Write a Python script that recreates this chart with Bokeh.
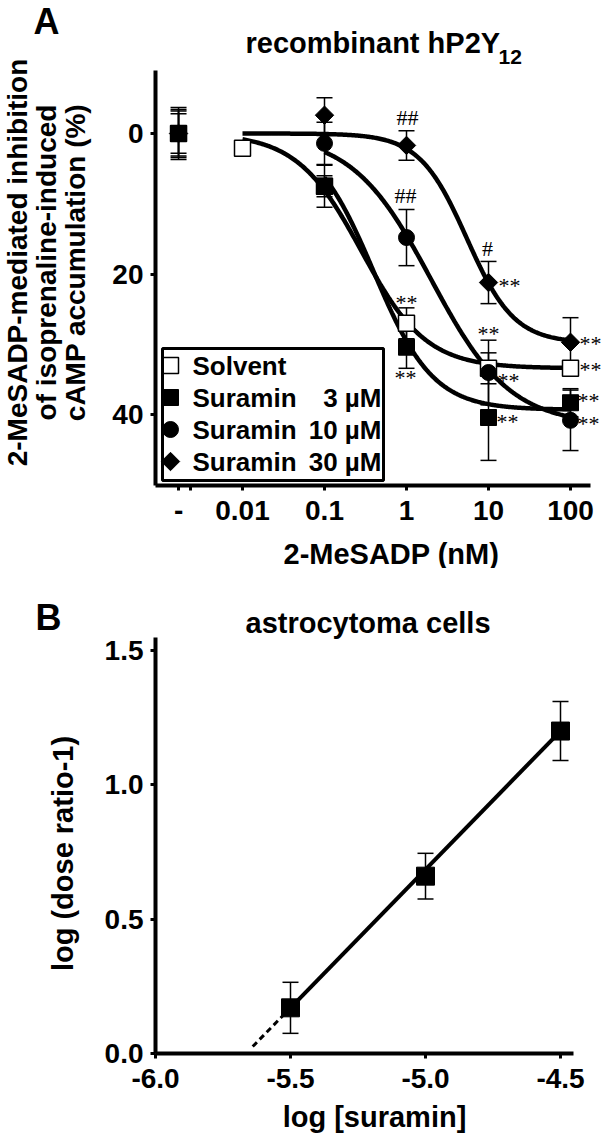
import numpy as np
from math import pi
from bokeh.plotting import figure
from bokeh.models import Range1d, FixedTicker, Label, Whisker, TeeHead, ColumnDataSource
from bokeh.layouts import column
from bokeh.embed import file_html
from bokeh.resources import INLINE

# ===================== DATA =====================
# Panel A: 2-MeSADP-mediated inhibition of cAMP accumulation (%), recombinant hP2Y12
conc_tick_labels = ["-", "0.01", "0.1", "1", "10", "100"]
conc_tick_log = [-2.78, -2.0, -1.0, 0.0, 1.0, 2.0]      # log10 [2-MeSADP] (nM); "-" = no agonist
inh_tick_values = [0, 20, 40]

solvent_logc = [-2.78, -2.0, -1.0, 0.0, 1.0, 2.0]
solvent_inh = [0.0, 2.1, 7.5, 27.0, 33.4, 33.4]
solvent_sem = [3.2, 0.0, 1.5, 2.2, 2.2, 1.0]

sur3_logc = [-2.78, -1.0, 0.0, 1.0, 2.0]
sur3_inh = [0.0, 7.5, 30.4, 40.4, 38.3]
sur3_sem = [2.8, 3.0, 3.0, 6.1, 2.0]

sur10_logc = [-2.78, -1.0, 0.0, 1.0, 2.0]
sur10_inh = [0.0, 1.4, 14.8, 34.0, 40.8]
sur10_sem = [3.7, 3.0, 4.0, 4.6, 4.3]

sur30_logc = [-2.78, -1.0, 0.0, 1.0, 2.0]
sur30_inh = [0.0, -2.6, 1.7, 21.2, 29.7]
sur30_sem = [3.4, 2.5, 2.1, 3.0, 3.5]

# fitted sigmoid curves: solvent, 3, 10, 30 uM suramin
fit_bottom = [33.4, 39.3, 41.5, 29.8]
fit_logec50 = [-0.55, -0.40, 0.30, 0.735]
fit_hill = [1.1, 1.2, 0.9, 1.5]
fit_from = [-2.0, -1.0, -1.0, -2.0]
fit_to = [2.0, 2.0, 2.0, 2.0]

legend_names = ["Solvent", "Suramin", "Suramin", "Suramin"]
legend_conc = ["", "3 \u00b5M", "10 \u00b5M", "30 \u00b5M"]

# significance marks (anchored at data points)
sig_text = ["##", "##", "#", "**", "**", "**", "**", "**", "**", "**", "**", "**", "**"]
sig_logc = [0.0, 0.0, 1.0, 0.0, 0.0, 1.0, 1.0, 1.0, 1.0, 2.0, 2.0, 2.0, 2.0]
sig_inh = [1.7, 14.8, 21.2, 27.0, 30.4, 21.2, 33.4, 34.0, 40.4, 29.7, 33.4, 38.3, 40.8]

# Panel B: Schild plot, astrocytoma cells
schild_logsur = [-5.5, -5.0, -4.5]
schild_logdr = [0.17, 0.66, 1.20]
schild_sem = [0.095, 0.085, 0.11]
schild_slope = 1.03
schild_intercept = 5.835
schild_solid = [-5.5, -4.5]
schild_dashed = [-5.64, -5.5]
b_xticks = [-6.0, -5.5, -5.0, -4.5]
b_xlabels = ["-6.0", "-5.5", "-5.0", "-4.5"]
b_yticks = [0.0, 0.5, 1.0, 1.5]
b_ylabels = ["0.0", "0.5", "1.0", "1.5"]

# ===================== LAYOUT =====================
FONT = "Liberation Sans"
W = 606
HA, HB = 568, 568
B_TOP = HA  # page y where panel B starts

# page-pixel -> data helpers (layout only)
A_PX_DEC, A_PX_X0 = 82.0, 242.0       # px per decade, px of 0.01 nM
A_PX_PCT, A_PX_Y0 = 7.03, 133.0       # px per %, px of 0 %
def ax(px):
    return -2.0 + (px - A_PX_X0) / A_PX_DEC
def ay(py):
    return (py - A_PX_Y0) / A_PX_PCT

B_PX_X, B_PX_X0 = 270.0, 155.0        # px per log unit, px of -6.0
B_PX_Y, B_PX_Y0 = 268.7, 1053.0       # px per unit, page px of 0.0
def bx(px):
    return -6.0 + (px - B_PX_X0) / B_PX_X
def by(py):
    return (B_PX_Y0 - py) / B_PX_Y


def make_fig(height, xr, yr):
    p = figure(width=W, height=height, x_range=Range1d(*xr), y_range=Range1d(*yr),
               output_backend="svg", toolbar_location=None, title=None, min_border=0)
    p.outline_line_color = None
    p.xgrid.visible = False
    p.ygrid.visible = False
    for a in (p.xaxis[0], p.yaxis[0]):
        a.axis_line_width = 4
        a.axis_line_color = "black"
        a.major_tick_line_width = 3
        a.major_tick_line_color = "black"
        a.major_tick_out = 5
        a.major_tick_in = 0
        a.minor_tick_line_color = None
        a.major_label_text_font = FONT
        a.major_label_text_font_style = "bold"
        a.major_label_text_font_size = "28px"
        a.major_label_text_color = "black"
    p.xaxis.major_label_standoff = 10
    p.yaxis.major_label_standoff = 7
    return p


def lab(p, x, y, text, size, bold=True, align="left", baseline="middle", angle=0.0, font=FONT):
    p.add_layout(Label(x=x, y=y, text=text, text_font=font, text_font_size=f"{size}px",
                       text_font_style="bold" if bold else "normal", text_align=align,
                       text_baseline=baseline, angle=angle, text_color="black"))


# ===================== PANEL A =====================
pA = make_fig(HA, (ax(0), ax(W)), (ay(HA), ay(0)))
pA.yaxis.fixed_location = ax(155)
pA.yaxis.bounds = (ay(70), ay(485))
pA.xaxis.fixed_location = ay(485)
pA.xaxis.bounds = (ax(155), ax(590))
pA.xaxis.ticker = FixedTicker(ticks=conc_tick_log + [-2.63])
ov = {float(t): l for t, l in zip(conc_tick_log, conc_tick_labels)}
ov[-2.63] = ""
pA.xaxis.major_label_overrides = ov
pA.yaxis.ticker = FixedTicker(ticks=inh_tick_values)
pA.yaxis.major_label_overrides = {v: str(v) for v in inh_tick_values}

# fitted curves
for b, ec, h, x0, x1 in zip(fit_bottom, fit_logec50, fit_hill, fit_from, fit_to):
    xs = np.linspace(x0, x1, 300)
    ys = b / (1.0 + 10 ** ((ec - xs) * h))
    pA.line(xs, ys, line_width=4.5, line_color="black")

series = [
    (solvent_logc, solvent_inh, solvent_sem, dict(marker="square", size=16, fill_color="white", line_color="black", line_width=1.5)),
    (sur30_logc, sur30_inh, sur30_sem, dict(marker="square", angle=pi / 4, size=13, fill_color="black", line_color="black")),
    (sur10_logc, sur10_inh, sur10_sem, dict(marker="circle", size=16, fill_color="black", line_color="black")),
    (sur3_logc, sur3_inh, sur3_sem, dict(marker="square", size=16, fill_color="black", line_color="black")),
]
for xs, ys, es, st in series:
    pA.scatter(xs, ys, **st)
for xs, ys, es, st in series:
    src = ColumnDataSource(dict(x=xs, lo=[y - e for y, e in zip(ys, es)], hi=[y + e for y, e in zip(ys, es)]))
    pA.add_layout(Whisker(base="x", lower="lo", upper="hi", source=src, dimension="height",
                          line_width=1.5, line_color="black",
                          upper_head=TeeHead(size=16, line_width=1.5, line_color="black"),
                          lower_head=TeeHead(size=16, line_width=1.5, line_color="black")))

# significance marks
sig_dx = [1, -1, -1, 0, -1, 21, 0, 20, 19, 20, 20, 18, 18]
sig_dy = [-28, -42, -34, -21, 30, 3, -35, 8, 4, 1, 1, -2, 3]
for t, xv, yv, dx, dy in zip(sig_text, sig_logc, sig_inh, sig_dx, sig_dy):
    pA.add_layout(Label(x=xv, y=yv, x_offset=dx, y_offset=-dy, text=t, text_font="Liberation Serif",
                        text_font_size="22px", text_align="center", text_baseline="middle",
                        text_color="black"))

# legend (manual)
leg_rows = [365, 397, 429, 461]
leg_styles = [s[3] for s in (series[0], series[3], series[2], series[1])]
for row, st, nm, cc in zip(leg_rows, leg_styles, legend_names, legend_conc):
    pA.scatter([ax(170)], [ay(row)], **st)
    lab(pA, ax(192), ay(row), nm, 26)
    if cc:
        lab(pA, ax(381), ay(row), cc, 26, align="right")
pA.quad(left=[ax(162)], right=[ax(383)], top=[ay(348)], bottom=[ay(480)],
        fill_color=None, line_color="black", line_width=3)

# texts
lab(pA, ax(33), ay(21), "A", 36)
lab(pA, ax(245), ay(42), "recombinant hP2Y", 29)
lab(pA, ax(498), ay(56), "12", 21)
for xc, t in zip([17, 46, 75], ["2-MeSADP-mediated inhibition", "of isoprenaline-induced", "cAMP accumulation (%)"]):
    lab(pA, ax(xc), ay(262), t, 28, align="center", angle=pi / 2)
lab(pA, ax(283), ay(553), "2-MeSADP (nM)", 29)

# ===================== PANEL B =====================
pB = make_fig(HB, (bx(0), bx(W)), (by(B_TOP + HB), by(B_TOP)))
pB.yaxis.fixed_location = -6.0
pB.yaxis.bounds = (0.0, by(637))
pB.xaxis.fixed_location = 0.0
pB.xaxis.bounds = (-6.0, bx(573))
pB.xaxis.ticker = FixedTicker(ticks=b_xticks)
pB.xaxis.major_label_overrides = {float(t): l for t, l in zip(b_xticks, b_xlabels)}
pB.yaxis.ticker = FixedTicker(ticks=b_yticks)
pB.yaxis.major_label_overrides = {float(t): l for t, l in zip(b_yticks, b_ylabels)}

xs = np.array(schild_solid)
pB.line(xs, schild_slope * xs + schild_intercept, line_width=4, line_color="black")
xs = np.array(schild_dashed)
pB.line(xs, schild_slope * xs + schild_intercept, line_width=3, line_color="black", line_dash="6 4")
pB.scatter(schild_logsur, schild_logdr, marker="square", size=18, fill_color="black", line_color="black")
srcB = ColumnDataSource(dict(x=schild_logsur,
                             lo=[y - e for y, e in zip(schild_logdr, schild_sem)],
                             hi=[y + e for y, e in zip(schild_logdr, schild_sem)]))
pB.add_layout(Whisker(base="x", lower="lo", upper="hi", source=srcB, dimension="height",
                      line_width=1.5, line_color="black",
                      upper_head=TeeHead(size=16, line_width=1.5, line_color="black"),
                      lower_head=TeeHead(size=16, line_width=1.5, line_color="black")))

lab(pB, bx(35), by(617), "B", 36)
lab(pB, bx(245), by(622), "astrocytoma cells", 29)
lab(pB, bx(62), by(853), "log (dose ratio-1)", 29, align="center", angle=pi / 2)
lab(pB, bx(374), by(1116), "log [suramin]", 29, align="center")

layout = column(pA, pB)
open("out.html", "w").write(file_html(layout, INLINE))
